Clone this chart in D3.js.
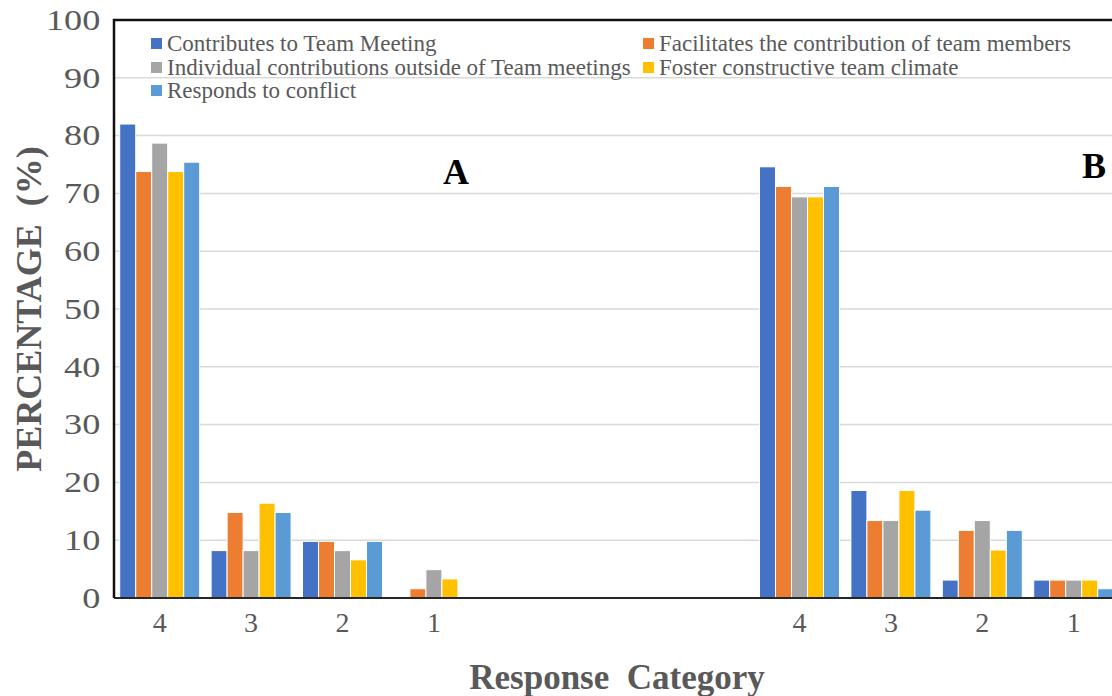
<!DOCTYPE html>
<html>
<head>
<meta charset="utf-8">
<script src="https://cdn.jsdelivr.net/npm/d3@7"></script>
<style>
  body { margin: 0; background: #fff; }
  svg { display: block; }
  text { font-family: "Liberation Serif", "Times New Roman", serif; }
</style>
</head>
<body>
<div id="chart"></div>
<script>
// categories along x: panel A, three empty slots, panel B
const categories = ["A4", "A3", "A2", "A1", "gap1", "gap2", "gap3", "B4", "B3", "B2", "B1"]
const tickLabels = { A4: "4", A3: "3", A2: "2", A1: "1", B4: "4", B3: "3", B2: "2", B1: "1" }

const seriesNames = [
    "Contributes to Team Meeting",
    "Facilitates the contribution of team members",
    "Individual contributions outside of Team meetings",
    "Foster constructive team climate",
    "Responds to conflict"
]
const seriesColors = ["#4472C4", "#ED7D31", "#A5A5A5", "#FFC000", "#5B9BD5"]

// percentage per series, in category order (A4..A1, gaps, B4..B1)
const contributes  = [82.0, 8.2, 9.8, 0,   null, null, null, 74.6, 18.6, 3.1, 3.1]
const facilitates  = [73.8, 14.8, 9.8, 1.6, null, null, null, 71.2, 13.4, 11.7, 3.1]
const individual   = [78.7, 8.2, 8.2, 4.9, null, null, null, 69.4, 13.4, 13.4, 3.1]
const foster       = [73.8, 16.4, 6.6, 3.3, null, null, null, 69.4, 18.6, 8.3, 3.1]
const responds     = [75.4, 14.8, 9.8, 0,   null, null, null, 71.2, 15.2, 11.7, 1.6]

const yTicks = [0, 10, 20, 30, 40, 50, 60, 70, 80, 90, 100]

const allSeries = [contributes, facilitates, individual, foster, responds]

const W = 1112, H = 696
const MARGIN = { TOP: 20, LEFT: 114 }
const STEP = 91.4
const plotBottom = 598
const SERIF = '"Liberation Serif", "Times New Roman", serif'

const svg = d3.select("#chart").append("svg")
    .attr("width", W)
    .attr("height", H)

// scales
const x0 = d3.scaleBand()
    .domain(categories)
    .range([MARGIN.LEFT, MARGIN.LEFT + STEP * categories.length])
    .paddingInner(0.125)
    .paddingOuter(0.0625)

const x1 = d3.scaleBand()
    .domain(d3.range(seriesNames.length))
    .range([0, x0.bandwidth()])

const y = d3.scaleLinear()
    .domain([0, 100])
    .range([plotBottom, MARGIN.TOP])

// gridlines
svg.append("g")
    .selectAll("line")
    .data(yTicks.filter(d => d > 0))
    .join("line")
    .attr("x1", MARGIN.LEFT)
    .attr("x2", W)
    .attr("y1", d => y(d))
    .attr("y2", d => y(d))
    .attr("stroke", "#d9d9d9")
    .attr("stroke-width", 1.5)

// y tick labels (digits look stretched wide in the original)
const yAxis = d3.axisLeft(y).tickValues(yTicks).tickSize(0).tickPadding(11)
const yAxisGroup = svg.append("g")
    .attr("transform", `translate(${MARGIN.LEFT}, 0)`)
    .call(yAxis)
yAxisGroup.select(".domain").remove()
yAxisGroup.selectAll("text")
    .style("font-family", SERIF)
    .style("font-size", "29px")
    .attr("fill", "#595959")
    .attr("transform", "scale(1.25,1)")

// bars
const rows = categories.map((c, i) => ({ cat: c, values: allSeries.map(s => s[i]) }))

svg.append("g")
    .selectAll("g")
    .data(rows)
    .join("g")
    .attr("transform", d => `translate(${x0(d.cat)}, 0)`)
    .selectAll("rect")
    .data(d => d.values.map((v, k) => ({ k, v })).filter(e => e.v))
    .join("rect")
    .attr("x", e => x1(e.k))
    .attr("width", x1.bandwidth())
    .attr("y", e => y(e.v))
    .attr("height", e => y(0) - y(e.v))
    .attr("fill", e => seriesColors[e.k])
    .attr("stroke", "#fff")
    .attr("stroke-width", 1)

// x axis
const xAxis = d3.axisBottom(x0).tickSize(0).tickPadding(14)
    .tickFormat(d => tickLabels[d] || "")
const xAxisGroup = svg.append("g")
    .attr("transform", `translate(0, ${plotBottom})`)
    .call(xAxis)
xAxisGroup.select(".domain").attr("stroke", "#262626").attr("stroke-width", 2)
    .attr("d", `M${MARGIN.LEFT},0H${W}`)
xAxisGroup.selectAll("text")
    .style("font-family", SERIF)
    .style("font-size", "28px")
    .attr("fill", "#595959")

// frame (left + top)
svg.append("path")
    .attr("d", `M${MARGIN.LEFT},${plotBottom}V${MARGIN.TOP}H${W}`)
    .attr("fill", "none")
    .attr("stroke", "#111")
    .attr("stroke-width", 2.5)

// panel letters
svg.append("text")
    .attr("x", x0("A1") + x0.bandwidth() / 2 + 22)
    .attr("y", 184)
    .attr("text-anchor", "middle")
    .attr("font-size", 36)
    .attr("font-weight", "bold")
    .attr("fill", "#000")
    .text("A")

svg.append("text")
    .attr("x", 1094)
    .attr("y", 178)
    .attr("text-anchor", "middle")
    .attr("font-size", 36)
    .attr("font-weight", "bold")
    .attr("fill", "#000")
    .text("B")

// legend
const legendPos = [[151, 43], [643, 43], [151, 67], [643, 67], [151, 90]]
const legend = svg.append("g")
    .selectAll("g")
    .data(seriesNames)
    .join("g")
    .attr("transform", (d, i) => `translate(${legendPos[i][0]}, ${legendPos[i][1]})`)

legend.append("rect")
    .attr("x", 0)
    .attr("y", -5)
    .attr("width", 11)
    .attr("height", 11)
    .attr("fill", (d, i) => seriesColors[i])

legend.append("text")
    .attr("x", 16)
    .attr("y", 8)
    .attr("font-size", 23)
    .attr("fill", "#595959")
    .text(d => d)

// axis titles
svg.append("text")
    .attr("transform", "translate(41, 309) rotate(-90)")
    .attr("text-anchor", "middle")
    .attr("font-size", 36)
    .attr("font-weight", "bold")
    .attr("fill", "#595959")
    .attr("xml:space", "preserve")
    .text("PERCENTAGE  (%)")

svg.append("text")
    .attr("x", 617)
    .attr("y", 689)
    .attr("text-anchor", "middle")
    .attr("font-size", 35)
    .attr("font-weight", "bold")
    .attr("fill", "#595959")
    .attr("xml:space", "preserve")
    .text("Response  Category")
</script>
</body>
</html>
